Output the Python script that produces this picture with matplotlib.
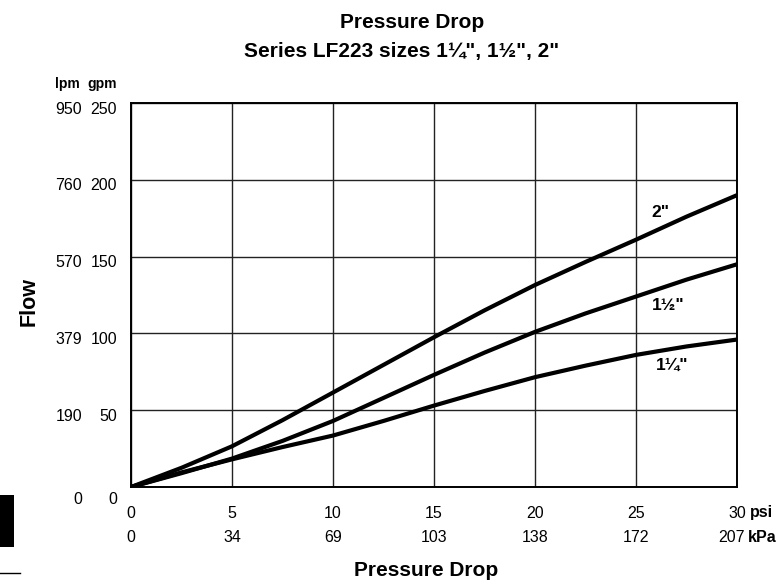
import matplotlib
matplotlib.use("Agg")
import matplotlib.pyplot as plt
from matplotlib.transforms import blended_transform_factory
from matplotlib.patches import Rectangle
from matplotlib.lines import Line2D

FONT = ['Liberation Sans', 'DejaVu Sans']
plt.rcParams['font.family'] = FONT

# ---- data ----
psi = [0, 2.5, 5, 7.5, 10, 12.5, 15, 17.5, 20, 22.5, 25, 27.5, 30]
flow_2 = [0, 12.5, 26.5, 43.5, 61.5, 79.5, 97.5, 115, 131.5, 146.5, 161, 176, 190]
flow_1_5 = [0, 9, 18.5, 30, 43, 58, 73, 87.5, 101, 113, 124, 135, 145]
flow_1_25 = [0, 9.5, 18, 26, 33.5, 43, 53, 62.5, 71.5, 79, 86, 91.5, 96]

psi_ticks = [0, 5, 10, 15, 20, 25, 30]
kpa_labels = ['0', '34', '69', '103', '138', '172', '207']
gpm_ticks = [0, 50, 100, 150, 200, 250]
lpm_labels = ['0', '190', '379', '570', '760', '950']
series_labels = ['2"', '1½"', '1¼"']
label_pos = [(26.2, 179), (26.6, 118), (26.8, 79)]

W, H = 783, 586
fig = plt.figure(figsize=(W / 100, H / 100), dpi=100)
ax = fig.add_axes([131 / W, 1 - 487 / H, (737 - 131) / W, (487 - 103) / H])
ax.set_xlim(0, 30)
ax.set_ylim(0, 250)

for s in ax.spines.values():
    s.set_linewidth(1.4)
    s.set_color('black')

ax.set_xticks(psi_ticks)
ax.set_yticks(gpm_ticks)
ax.tick_params(length=0, labelbottom=False, labelleft=False)
ax.grid(True, color='#222222', linewidth=1.0)

for y in (flow_2, flow_1_5, flow_1_25):
    ax.plot(psi, y, color='black', linewidth=3.0, solid_capstyle='round',
            solid_joinstyle='round', zorder=3)

for lab, (x, y) in zip(series_labels, label_pos):
    ax.text(x, y, lab, fontsize=12.5, fontweight='bold', ha='center', va='center')

TS = 11.5
# y labels
ty = blended_transform_factory(ax.transAxes, ax.transData)
for g, l in zip(gpm_ticks, lpm_labels):
    yy = g - 4 if g > 0 else g - 8
    ax.text(-14 / 606, yy, str(g), transform=ty, ha='right', va='center', fontsize=TS)
    ax.text(-49 / 606, yy, l, transform=ty, ha='right', va='center', fontsize=TS)
ax.text(-14 / 606, 1 + 19 / 384, 'gpm', transform=ax.transAxes, ha='right', va='center',
        fontsize=10, fontweight='bold')
ax.text(-51 / 606, 1 + 19 / 384, 'lpm', transform=ax.transAxes, ha='right', va='center',
        fontsize=10, fontweight='bold')

# x labels
tx = blended_transform_factory(ax.transData, ax.transAxes)
for p, k in zip(psi_ticks, kpa_labels):
    ax.text(p, -26 / 384, str(p), transform=tx, ha='center', va='center', fontsize=TS)
    if p < 30:
        ax.text(p, -50 / 384, k, transform=tx, ha='center', va='center', fontsize=TS)
    else:
        ax.text(1 + 8 / 606, -50 / 384, k, transform=ax.transAxes, ha='right', va='center',
                fontsize=TS)
ax.text(1 + 13 / 606, -26 / 384, 'psi', transform=ax.transAxes, ha='left', va='center',
        fontsize=TS, fontweight='bold')
ax.text(1 + 11 / 606, -50 / 384, 'kPa', transform=ax.transAxes, ha='left', va='center',
        fontsize=TS, fontweight='bold')

# titles
fig.text(412 / W, 1 - 22 / H, 'Pressure Drop', ha='center', va='center', fontsize=15,
         fontweight='bold')
fig.text(402 / W, 1 - 51 / H, 'Series LF223 sizes 1¼", 1½", 2"', ha='center', va='center',
         fontsize=15, fontweight='bold')
fig.text(426 / W, 1 - 571 / H, 'Pressure Drop', ha='center', va='center', fontsize=15,
         fontweight='bold')
fig.text(29 / W, 1 - 302 / H, 'Flow', ha='center', va='center', rotation=90, fontsize=15.5,
         fontweight='bold')

# page-edge marks
fig.patches.append(Rectangle((0, 1 - 547 / H), 14 / W, 52 / H, transform=fig.transFigure,
                             facecolor='black', edgecolor='none'))
fig.lines.append(Line2D([0, 20 / W], [1 - 573 / H, 1 - 573 / H], transform=fig.transFigure,
                        color='black', linewidth=1.0))

fig.savefig('out.png', dpi=100)
